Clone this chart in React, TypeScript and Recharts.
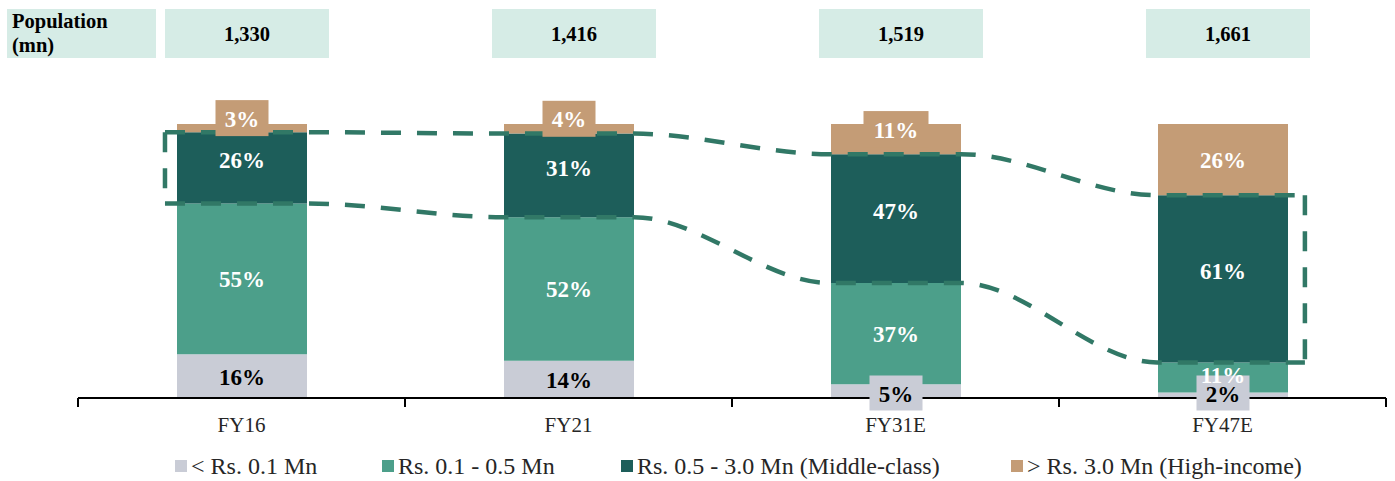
import React from 'react';
import { ComposedChart, Bar, Line, XAxis, YAxis, Legend, LabelList, ReferenceLine } from 'recharts';

const categories = ['FY16', 'FY21', 'FY31E', 'FY47E'];
const population = ['1,330', '1,416', '1,519', '1,661'];
const below01 = [16, 13.6, 5, 2];
const from01to05 = [55, 52.4, 37, 11];
const from05to30 = [26, 30.5, 47, 61];
const above30 = [3, 3.5, 11, 26];
const seriesNames = ['< Rs. 0.1 Mn', 'Rs. 0.1 - 0.5 Mn', 'Rs. 0.5 - 3.0 Mn (Middle-class)', '> Rs. 3.0 Mn (High-income)'];
const xTicks = [0, 0.5, 1, 1.5, 2, 2.5, 3, 3.5, 4];

const COLORS = ['#c9ccd6', '#4c9f8a', '#1d5e5a', '#c49c76'];
const DASH = '#317866';
const HEADER = '#d6ece6';
const FONT = '"Liberation Serif","Times New Roman",serif';

const data = categories.map((c, i) => ({
  x: i + 0.5,
  name: c,
  low: below01[i],
  lower: from01to05[i],
  middle: from05to30[i],
  high: above30[i],
}));

const HALF = 0.2; // half bar width in category units
const LEFT_PAD = 0.034;
const RIGHT_PAD = 0.052;

const topVals = categories.map((_, i) => below01[i] + from01to05[i] + from05to30[i]);
const botVals = categories.map((_, i) => below01[i] + from01to05[i]);

const edge = (vals: number[]) => {
  const pts: { x: number; y: number }[] = [];
  vals.forEach((v, i) => {
    const c = i + 0.5;
    pts.push({ x: c - HALF - (i === 0 ? LEFT_PAD : 0), y: v });
    pts.push({ x: c + HALF + (i === vals.length - 1 ? RIGHT_PAD : 0), y: v });
  });
  return pts;
};
const topEdge = edge(topVals);
const botEdge = edge(botVals);
const leftX = 0.5 - HALF - LEFT_PAD;
const rightX = categories.length - 0.5 + HALF + RIGHT_PAD;

const segLabel = (kind: 'low' | 'lower' | 'middle' | 'high') => (props: any) => {
  const { x, y, width, height, value } = props;
  const cx = x + width / 2;
  let cy = y + height / 2;
  const txt = `${Math.round(Number(value))}%`;
  const boxW = txt.length > 2 ? 65 : 53;
  let box: React.ReactNode = null;
  if (kind === 'middle') cy -= 8;
  if (kind === 'lower' && height < 40) cy -= 3;
  if (kind === 'high' && height < 35) {
    cy = cy - 10;
    box = <rect x={cx - boxW / 2} y={cy - 18} width={boxW} height={36} fill={COLORS[3]} />;
  }
  if (kind === 'low' && height < 30) {
    cy = y + height - 5;
    box = <rect x={cx - boxW / 2} y={cy - 17.5} width={boxW} height={35} fill={COLORS[0]} />;
  }
  return (
    <g>
      {box}
      <text
        x={cx}
        y={cy + 1}
        textAnchor="middle"
        dominantBaseline="central"
        fill={kind === 'low' ? '#000' : '#fff'}
        fontFamily={FONT}
        fontWeight="bold"
        fontSize={23}
      >
        {txt}
      </text>
    </g>
  );
};

const headerLabel = (props: any) => {
  const { x, width, index } = props;
  const cx = x + width / 2 + 5;
  return (
    <g>
      {index === 0 && (
        <g>
          <rect x={7} y={9} width={149} height={49} fill={HEADER} />
          <text x={12} y={28} fontFamily={FONT} fontWeight="bold" fontSize={20.5} fill="#000">Population</text>
          <text x={12} y={52} fontFamily={FONT} fontWeight="bold" fontSize={20.5} fill="#000">(mn)</text>
        </g>
      )}
      <rect x={cx - 82} y={9} width={164} height={49} fill={HEADER} />
      <text x={cx} y={34} textAnchor="middle" dominantBaseline="central" fontFamily={FONT} fontWeight="bold" fontSize={20.5} fill="#000">
        {population[index]}
      </text>
    </g>
  );
};

const AxisTick = (props: any) => {
  const { x, y, payload } = props;
  const v = Number(payload.value);
  if (Number.isInteger(v)) {
    return <line x1={x} x2={x} y1={y} y2={y + 9} stroke="#000" strokeWidth={2} />;
  }
  return (
    <text x={x} y={y + 27} textAnchor="middle" dominantBaseline="central" fontFamily={FONT} fontSize={21} fill="#262626">
      {categories[Math.floor(v)]}
    </text>
  );
};

const LEGEND_X = [175, 382, 621, 1011];
const renderLegend = () => (
  <div style={{ position: 'relative', width: 1395, height: 38, margin: 0, padding: 0 }}>
    {seriesNames.map((n, i) => (
      <div
        key={n}
        style={{
          position: 'absolute',
          left: LEGEND_X[i],
          top: 8,
          height: 30,
          display: 'flex',
          alignItems: 'center',
          whiteSpace: 'nowrap',
          fontFamily: FONT,
          fontSize: 24,
          color: '#262626',
        }}
      >
        <span style={{ display: 'inline-block', width: 12, height: 12, background: COLORS[i], marginRight: 4 }} />
        <span>{n}</span>
      </div>
    ))}
  </div>
);

const dashProps = { stroke: DASH, strokeWidth: 4.5, strokeDasharray: '20 16' };

export default function App() {
  return (
    <div style={{ position: 'absolute', left: 0, top: 0, width: 1395, height: 481, background: '#fff' }}>
      <ComposedChart width={1395} height={481} data={data} margin={{ top: 124, right: 9, left: 78, bottom: 0 }}>
        <XAxis
          type="number"
          dataKey="x"
          domain={[0, 4]}
          ticks={xTicks}
          interval={0}
          tick={<AxisTick />}
          tickLine={false}
          tickSize={0}
          tickMargin={0}
          axisLine={{ stroke: '#000', strokeWidth: 2 }}
          height={45}
          allowDecimals
        />
        <XAxis xAxisId="outline" type="number" dataKey="x" domain={[0, 4]} hide allowDataOverflow />
        <YAxis hide domain={[0, 100]} />
        <Legend verticalAlign="bottom" height={38} content={renderLegend} wrapperStyle={{ left: 0, width: 1395, bottom: 0 }} />
        <Bar dataKey="low" stackId="a" barSize={130} fill={COLORS[0]} isAnimationActive={false}>
          <LabelList dataKey="low" content={segLabel('low')} />
        </Bar>
        <Bar dataKey="lower" stackId="a" barSize={130} fill={COLORS[1]} isAnimationActive={false}>
          <LabelList dataKey="lower" content={segLabel('lower')} />
        </Bar>
        <Bar dataKey="middle" stackId="a" barSize={130} fill={COLORS[2]} isAnimationActive={false}>
          <LabelList dataKey="middle" content={segLabel('middle')} />
        </Bar>
        <Bar dataKey="high" stackId="a" barSize={130} fill={COLORS[3]} isAnimationActive={false}>
          <LabelList dataKey="high" content={segLabel('high')} />
          <LabelList dataKey="high" content={headerLabel} />
        </Bar>
        <Line xAxisId="outline" data={topEdge} dataKey="y" type="monotone" dot={false} activeDot={false} isAnimationActive={false} {...dashProps} />
        <Line xAxisId="outline" data={botEdge} dataKey="y" type="monotone" dot={false} activeDot={false} isAnimationActive={false} {...dashProps} />
        <ReferenceLine xAxisId="outline" segment={[{ x: leftX, y: topVals[0] }, { x: leftX, y: botVals[0] }]} ifOverflow="visible" {...dashProps} />
        <ReferenceLine
          xAxisId="outline"
          segment={[{ x: rightX, y: topVals[topVals.length - 1] }, { x: rightX, y: botVals[botVals.length - 1] }]}
          ifOverflow="visible"
          {...dashProps}
        />
      </ComposedChart>
    </div>
  );
}
